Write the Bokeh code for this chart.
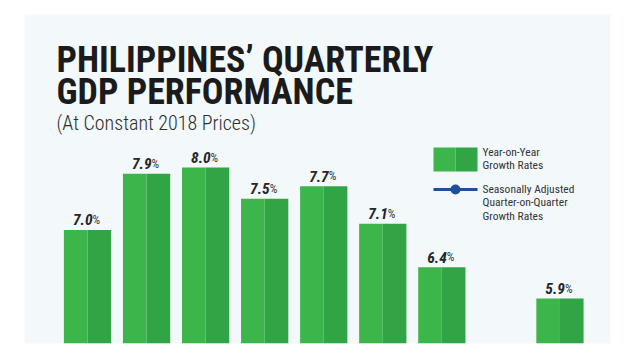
from bokeh.plotting import figure
from bokeh.models import ColumnDataSource, Label, Range1d, BoxAnnotation
from bokeh.transform import dodge
from bokeh.embed import file_html
from bokeh.resources import INLINE
from bokeh.core.properties import value

# ---- data ----
slots = [1, 2, 3, 4, 5, 6, 7, 8, 9]
yoy_growth = [7.0, 7.9, 8.0, 7.5, 7.7, 7.1, 6.4, None, 5.9]   # 8th quarter lies below the visible area
yoy_labels = ["7.0", "7.9", "8.0", "7.5", "7.7", "7.1", "6.4", None, "5.9"]

title_line1 = "PHILIPPINES\u2019 QUARTERLY"
title_line2 = "GDP PERFORMANCE"
subtitle = "(At Constant 2018 Prices)"
legend_yoy = "Year-on-Year\nGrowth Rates"
legend_qoq = "Seasonally Adjusted\nQuarter-on-Quarter\nGrowth Rates"

keep = [i for i, v in enumerate(yoy_growth) if v is not None]
src = ColumnDataSource(dict(
    x=[slots[i] for i in keep],
    top=[yoy_growth[i] for i in keep],
    label=[yoy_labels[i] for i in keep],
    pct=["%" for _ in keep],
))

FONT = "Roboto Condensed, Roboto"
LIGHT_FONT = "Roboto Condensed Light, Roboto Condensed, Roboto"
LIGHT = "#3cb54b"
DARK = "#31a446"
BLUE = "#1e4f9f"

p = figure(width=632, height=352,
           x_range=Range1d(-0.067, 9.856), y_range=Range1d(5.179, 10.453),
           output_backend="svg", toolbar_location=None,
           x_axis_location=None, y_axis_location=None,
           min_border_left=24, min_border_right=22, min_border_top=14, min_border_bottom=9,
           background_fill_color="#f3f8fb", border_fill_color="white",
           outline_line_color=None)
p.grid.visible = False

p.vbar(x=dodge("x", -0.2, range=p.x_range), top="top", bottom=0, width=0.4,
       source=src, fill_color=LIGHT, line_color=None)
p.vbar(x=dodge("x", 0.2, range=p.x_range), top="top", bottom=0, width=0.4,
       source=src, fill_color=DARK, line_color=None)

p.text(x="x", y="top", text="label", source=src, text_align="right",
       text_baseline="alphabetic", x_offset=5, y_offset=-10,
       text_font=value(FONT), text_font_style="bold italic",
       text_font_size="15.5px", text_color="#262626")
p.text(x="x", y="top", text="pct", source=src, text_align="left",
       text_baseline="alphabetic", x_offset=5, y_offset=-10,
       text_font=value(FONT), text_font_size="12px", text_color="#3a3a3a")

# ---- legend (drawn as annotations) ----
def box(l, r, t, b, color, radius=0):
    return BoxAnnotation(left=l, right=r, top=t, bottom=b,
                         left_units="canvas", right_units="canvas",
                         top_units="canvas", bottom_units="canvas",
                         fill_color=color, fill_alpha=1, line_color=None,
                         border_radius=radius, level="overlay")

p.add_layout(box(433, 455, 147, 171, LIGHT))
p.add_layout(box(455, 477, 147, 171, DARK))
p.add_layout(box(433, 477, 187.5, 190.5, BLUE))
p.add_layout(box(450, 460, 184, 194, BLUE, radius=5))

for txt, y in [(legend_yoy, 144), (legend_qoq, 181)]:
    p.add_layout(Label(x=482, y=y, x_units="canvas", y_units="canvas", text=txt,
                       text_font=FONT, text_font_size="11.5px", text_color="#333333",
                       text_baseline="top", text_line_height=0.98))

for txt, y, size, font, style, col in [
        (title_line1, 59, "36px", FONT, "bold", "#1b1b1b"),
        (title_line2, 91, "36px", FONT, "bold", "#1b1b1b"),
        (subtitle, 122, "20px", LIGHT_FONT, "normal", "#2e2e2e")]:
    p.add_layout(Label(x=56, y=y, x_units="canvas", y_units="canvas", text=txt,
                       text_font=font, text_font_style=style, text_font_size=size,
                       text_color=col, text_baseline="alphabetic"))

open("out.html", "w").write(file_html(p, INLINE))
